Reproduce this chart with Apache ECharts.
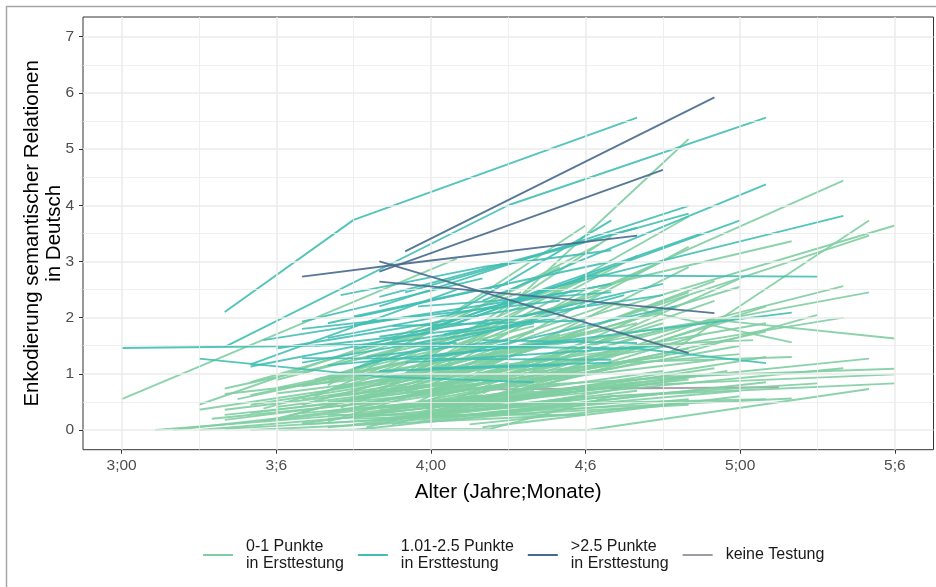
<!DOCTYPE html>
<html>
<head>
<meta charset="utf-8">
<script src="https://cdn.jsdelivr.net/npm/echarts@6/dist/echarts.min.js"></script>
<style>
  html, body { margin: 0; padding: 0; background: #fff; }
  #chart { width: 936px; height: 587px; }
</style>
</head>
<body>
<div id="chart"></div>
<script>
// Alter in Monaten, Wert = Enkodierung semantischer Relationen
const xTicks = [36, 42, 48, 54, 60, 66]
const xTickLabels = ['3;00', '3;6', '4;00', '4;6', '5;00', '5;6']
const xMinor = [39, 45, 51, 57, 63]
const yTicks = [0, 1, 2, 3, 4, 5, 6, 7]
const yMinor = [0.5, 1.5, 2.5, 3.5, 4.5, 5.5, 6.5]

const groupNames = ['0-1 Punkte\nin Ersttestung', '1.01-2.5 Punkte\nin Ersttestung', '>2.5 Punkte\nin Ersttestung', 'keine Testung']
const groupColors = ['#7fcea2', '#41bfb3', '#47698c', '#a09aa4']

// 0-1 Punkte in Ersttestung
const gruppeNiedrig = [
  [[36.0, 0.55], [49.0, 3.05]],
  [[38.0, 0.0], [50.0, 0.62]],
  [[39.0, 0.45], [51.5, 2.45]],
  [[39.0, 0.36], [50.5, 1.15]],
  [[39.0, 0.0], [53.5, 0.55]],
  [[37.3, 0.0], [47.0, 0.35]],
  [[40.0, 0.74], [52.0, 1.95]],
  [[40.0, 0.64], [49.0, 1.1]],
  [[40.0, 0.36], [52.5, 1.05]],
  [[40.0, 0.27], [47.0, 0.6]],
  [[40.0, 0.18], [53.0, 0.92]],
  [[40.0, 0.02], [50.0, 0.28]],
  [[41.0, 0.62], [51.0, 1.6]],
  [[41.0, 0.45], [53.0, 1.3]],
  [[41.0, 0.3], [49.5, 0.8]],
  [[41.0, 0.0], [54.0, 0.28]],
  [[42.0, 0.89], [53.0, 2.2]],
  [[42.0, 0.65], [55.0, 1.4]],
  [[42.0, 0.41], [51.0, 0.95]],
  [[42.0, 0.18], [52.0, 0.7]],
  [[42.1, 0.0], [54.1, 0.0], [65.0, 0.73]],
  [[43.1, 0.0], [50.3, 0.02], [55.0, 0.6]],
  [[43.0, 1.0], [53.5, 2.6]],
  [[43.0, 0.78], [52.0, 1.5]],
  [[43.0, 0.55], [55.0, 1.35]],
  [[43.0, 0.3], [51.0, 0.62]],
  [[43.0, 0.12], [54.0, 0.75]],
  [[44.0, 0.95], [54.0, 2.35]],
  [[44.0, 0.7], [56.0, 1.9]],
  [[44.0, 0.5], [52.0, 0.95]],
  [[44.0, 0.33], [55.0, 1.1]],
  [[44.0, 0.2], [53.0, 0.45]],
  [[44.0, 0.05], [55.5, 0.5]],
  [[45.0, 0.88], [55.0, 2.5]],
  [[45.0, 0.62], [54.0, 1.75]],
  [[45.0, 0.4], [56.0, 1.5]],
  [[45.0, 0.25], [53.0, 0.82]],
  [[45.0, 0.1], [56.0, 0.7]],
  [[45.0, 0.0], [52.0, 0.35]],
  [[46.0, 0.96], [55.0, 2.9]],
  [[46.0, 0.75], [57.0, 2.1]],
  [[46.0, 0.52], [55.0, 1.2]],
  [[46.0, 0.35], [57.0, 1.05]],
  [[46.0, 0.18], [54.0, 0.6]],
  [[46.0, 0.3], [58.0, 0.9]],
  [[47.0, 0.9], [57.0, 3.0]],
  [[47.0, 0.68], [55.0, 1.6]],
  [[47.0, 0.45], [58.0, 1.45]],
  [[47.0, 0.22], [56.0, 0.85]],
  [[47.0, 0.6], [59.0, 1.25]],
  [[48.0, 0.9], [58.0, 5.18]],
  [[48.0, 0.82], [58.0, 2.45]],
  [[48.0, 0.55], [57.0, 1.8]],
  [[48.0, 0.35], [59.0, 1.1]],
  [[48.0, 0.15], [58.0, 0.55]],
  [[48.0, 0.7], [60.0, 1.0]],
  [[49.0, 0.95], [59.0, 2.65]],
  [[49.0, 0.6], [60.0, 1.5]],
  [[49.0, 0.4], [58.0, 0.95]],
  [[49.0, 0.25], [61.0, 0.85]],
  [[50.0, 0.85], [59.0, 2.3]],
  [[50.0, 0.5], [61.0, 1.3]],
  [[50.0, 0.3], [60.0, 0.7]],
  [[46.0, 0.8], [53.0, 2.2], [64.0, 4.44]],
  [[44.0, 0.6], [57.0, 1.3], [65.0, 3.73]],
  [[47.0, 0.9], [54.0, 2.0], [66.0, 3.64]],
  [[45.0, 0.7], [54.0, 1.8], [65.0, 3.46]],
  [[48.0, 0.95], [54.0, 2.5], [62.0, 3.36]],
  [[46.0, 0.5], [54.0, 1.4], [64.0, 2.56]],
  [[47.0, 0.6], [55.0, 1.6], [65.0, 2.45]],
  [[45.0, 0.55], [56.0, 1.4], [64.0, 2.0]],
  [[44.0, 0.9], [59.0, 1.96], [66.0, 1.63]],
  [[46.0, 0.85], [55.0, 2.25], [62.0, 1.56]],
  [[47.0, 0.4], [57.0, 0.95], [66.0, 1.09]],
  [[45.0, 0.3], [56.0, 0.8], [66.0, 0.99]],
  [[46.0, 0.2], [55.0, 0.6], [66.0, 0.83]],
  [[48.0, 0.45], [57.0, 0.9], [65.0, 1.27]],
  [[47.0, 0.35], [56.0, 0.75], [64.0, 1.1]],
  [[48.0, 0.25], [55.0, 0.6], [63.0, 0.83]],
  [[43.0, 0.1], [52.0, 0.35], [62.0, 0.56]],
  [[49.0, 0.7], [56.0, 1.5], [61.0, 1.9]],
  [[48.0, 0.6], [58.0, 1.4], [63.0, 2.05]],
  [[45.0, 0.45], [55.0, 1.2], [62.0, 1.3]],
  [[46.0, 0.65], [55.0, 1.3], [61.0, 2.2]],
  [[47.0, 0.75], [60.0, 2.55]],
  [[48.0, 0.5], [61.0, 1.75]],
  [[45.0, 0.92], [54.0, 3.64]],
  [[47.0, 0.95], [58.0, 3.8]],
  [[48.0, 0.8], [58.0, 3.26]],
  [[46.0, 0.7], [56.0, 3.1]],
  [[44.0, 0.85], [53.0, 2.9]],
  [[43.5, 0.6], [54.0, 2.7]],
  [[47.5, 0.5], [58.0, 2.9]],
  [[49.0, 0.55], [58.0, 2.4]],
  [[50.0, 0.65], [60.0, 2.7]],
  [[48.5, 0.3], [59.0, 2.0]],
  [[44.5, 0.4], [54.0, 1.9]],
  [[43.0, 0.45], [53.0, 1.7]],
  [[42.5, 0.25], [52.5, 1.5]],
  [[41.5, 0.15], [51.0, 1.2]],
  [[44.0, 0.15], [55.0, 1.7]],
  [[45.5, 0.05], [54.0, 1.0]],
  [[46.5, 0.1], [56.0, 1.25]],
  [[47.5, 0.15], [57.0, 0.65]],
  [[49.5, 0.1], [58.0, 0.5]],
  [[50.0, 0.05], [60.0, 0.6]],
  [[43.5, 0.9], [52.0, 1.85]],
  [[44.5, 0.75], [51.0, 1.3]],
  [[46.5, 0.95], [53.0, 1.65]],
  [[48.5, 0.75], [55.0, 1.15]],
  [[50.0, 0.95], [57.0, 1.9]],
  [[42.0, 0.75], [50.0, 1.5]],
  [[41.0, 0.85], [49.0, 1.9]],
  [[40.5, 0.55], [48.0, 1.3]],
  [[39.5, 0.2], [46.0, 0.5]],
  [[41.5, 0.38], [52.0, 1.75]],
  [[45.0, 0.2], [52.0, 0.3], [58.0, 0.45]],
  [[44.0, 0.27], [54.0, 0.27]],
  [[46.0, 0.4], [61.0, 0.55]],
  [[44.0, 0.8], [54.5, 3.3]],
  [[46.5, 0.85], [55.0, 3.45]],
  [[49.0, 0.45], [56.0, 1.2], [60.0, 1.35]],
  [[50.5, 0.6], [58.5, 1.7]],
  [[51.0, 0.4], [59.5, 1.05]],
  [[47.5, 0.3], [55.5, 1.5], [60.5, 1.6]],
  [[51.0, 0.8], [60.0, 2.0]]
]

// 1.01-2.5 Punkte in Ersttestung
const gruppeMittel = [
  [[40.0, 2.1], [45.0, 3.74], [56.0, 5.56]],
  [[40.0, 1.48], [51.0, 4.0], [61.0, 5.56]],
  [[36.0, 1.46], [42.0, 1.49], [49.0, 1.55]],
  [[39.0, 1.27], [46.0, 0.95], [52.0, 0.85]],
  [[41.0, 1.17], [49.0, 2.5]],
  [[41.0, 1.13], [48.0, 1.75]],
  [[43.0, 1.93], [50.0, 2.7]],
  [[42.0, 1.45], [52.0, 2.2]],
  [[43.0, 1.28], [55.0, 1.25]],
  [[44.0, 1.64], [55.0, 2.6]],
  [[45.0, 2.02], [55.0, 3.0]],
  [[45.0, 1.87], [54.0, 2.5]],
  [[46.0, 2.37], [56.0, 3.6]],
  [[46.0, 2.2], [58.0, 3.99]],
  [[45.0, 1.45], [53.0, 2.0]],
  [[46.0, 1.66], [57.0, 2.4]],
  [[46.5, 1.6], [54.2, 2.75], [63.0, 2.73]],
  [[50.0, 2.3], [61.0, 4.37]],
  [[49.0, 1.9], [60.0, 3.73]],
  [[52.0, 2.45], [64.0, 3.81]],
  [[48.0, 1.3], [62.0, 2.09]],
  [[47.0, 1.5], [56.0, 1.45], [61.0, 1.19]],
  [[44.0, 1.15], [54.0, 1.6]],
  [[47.0, 2.45], [58.0, 3.85]],
  [[48.0, 1.8], [58.5, 3.5]],
  [[49.0, 2.1], [55.0, 3.73]],
  [[44.5, 2.4], [50.0, 2.9], [55.0, 3.2]],
  [[43.0, 1.8], [53.0, 2.3]],
  [[47.0, 1.2], [57.0, 1.5]],
  [[48.0, 1.1], [55.0, 1.2]],
  [[45.5, 1.3], [51.0, 1.6]],
  [[49.5, 1.4], [57.5, 2.2]],
  [[50.0, 1.6], [56.0, 1.55]],
  [[46.0, 1.05], [53.0, 1.15]],
  [[44.0, 1.9], [51.0, 2.6]],
  [[41.5, 1.6], [47.0, 2.0]],
  [[43.5, 1.5], [49.5, 1.8]],
  [[46.5, 1.85], [54.0, 1.95]],
  [[48.5, 1.7], [57.0, 2.6]],
  [[47.5, 2.2], [55.0, 2.45]],
  [[45.0, 1.1], [55.5, 2.4]],
  [[43.0, 1.2], [52.0, 1.9]]
]

// >2.5 Punkte in Ersttestung
const gruppeHoch = [
  [[43.0, 2.73], [46.8, 2.95], [56.0, 3.46]],
  [[46.0, 2.82], [57.0, 4.63]],
  [[47.0, 3.18], [59.0, 5.92]],
  [[46.0, 3.0], [58.0, 1.37]],
  [[46.0, 2.64], [59.0, 2.08]]
]

// keine Testung
const keineTestung = [
  [[50.0, 0.72], [57.0, 0.75]],
  [[55.0, 0.74], [61.5, 0.76]]
]

function makeSeries(name, color, lines, z) {
  return lines.map(pts => ({
    name: name,
    type: 'line',
    data: pts,
    symbol: 'none',
    silent: true,
    z: z,
    color: color,
    lineStyle: { color: color, width: 1.9, opacity: 0.9 },
    itemStyle: { color: color },
    emphasis: { disabled: true },
    animation: false
  }))
}

const gridLineStyle = (w) => ({ color: '#ebebeb', width: w, type: 'solid' })

const gridSeries = {
  type: 'line',
  data: [],
  silent: true,
  z: 1,
  animation: false,
  markLine: {
    silent: true,
    symbol: 'none',
    animation: false,
    label: { show: false },
    emphasis: { disabled: true },
    lineStyle: gridLineStyle(1),
    data: [
      ...xMinor.map(v => ({ xAxis: v, lineStyle: gridLineStyle(0.8) })),
      ...yMinor.map(v => ({ yAxis: v, lineStyle: gridLineStyle(0.8) })),
      ...xTicks.map(v => ({ xAxis: v, lineStyle: gridLineStyle(1.5) })),
      ...yTicks.map(v => ({ yAxis: v, lineStyle: gridLineStyle(1.5) }))
    ]
  }
}

const fontFamily = '"Liberation Sans", Arial, sans-serif'

const option = {
  backgroundColor: '#ffffff',
  animation: false,
  textStyle: { fontFamily: fontFamily },
  grid: {
    left: 83,
    top: 17,
    width: 850.5,
    height: 432.7,
    show: true,
    borderColor: '#333333',
    borderWidth: 1,
    backgroundColor: '#ffffff'
  },
  xAxis: {
    type: 'value',
    min: 34.5,
    max: 67.5,
    name: 'Alter (Jahre;Monate)',
    nameLocation: 'middle',
    nameGap: 32,
    nameMoveOverlap: false,
    nameTextStyle: { fontSize: 20.5, color: '#000000', fontFamily: fontFamily },
    axisLine: { show: false, onZero: false },
    axisTick: { show: true, length: 4, customValues: xTicks, lineStyle: { color: '#333333' } },
    axisLabel: {
      customValues: xTicks,
      formatter: v => xTickLabels[xTicks.indexOf(v)],
      color: '#4d4d4d',
      fontSize: 15.5,
      margin: 8,
      fontFamily: fontFamily
    },
    splitLine: { show: false }
  },
  yAxis: {
    type: 'value',
    min: -0.35,
    max: 7.35,
    name: 'Enkodierung semantischer Relationen\nin Deutsch',
    nameLocation: 'middle',
    nameRotate: 90,
    nameGap: 18,
    nameMoveOverlap: false,
    nameTextStyle: { fontSize: 20.5, lineHeight: 22, color: '#000000', fontFamily: fontFamily },
    axisLine: { show: false, onZero: false },
    axisTick: { show: true, length: 4, customValues: yTicks, lineStyle: { color: '#333333' } },
    axisLabel: {
      customValues: yTicks,
      color: '#4d4d4d',
      fontSize: 15.5,
      margin: 9,
      fontFamily: fontFamily
    },
    splitLine: { show: false }
  },
  legend: {
    data: groupNames.map((n, i) => ({ name: n, itemStyle: { color: groupColors[i] } })),
    left: 198,
    top: 533,
    orient: 'horizontal',
    itemWidth: 38,
    itemHeight: 2,
    itemGap: 14,
    icon: 'path://M0,0L30,0L30,2L0,2ZM38,0L38,2',
    itemStyle: { borderWidth: 0 },
    selectedMode: false,
    textStyle: { fontSize: 16, lineHeight: 17, color: '#1a1a1a', fontFamily: fontFamily }
  },
  graphic: [
    {
      type: 'rect',
      shape: { x: 6.5, y: 6.5, width: 1000, height: 1000 },
      style: { fill: 'none', stroke: '#a6a6a6', lineWidth: 1.5 },
      silent: true,
      z: 100
    }
  ],
  series: [
    gridSeries,
    ...makeSeries(groupNames[3], groupColors[3], keineTestung, 2),
    ...makeSeries(groupNames[0], groupColors[0], gruppeNiedrig, 3),
    ...makeSeries(groupNames[1], groupColors[1], gruppeMittel, 4),
    ...makeSeries(groupNames[2], groupColors[2], gruppeHoch, 5)
  ]
}

const chart = echarts.init(document.getElementById('chart'), null, { renderer: 'canvas' })
chart.setOption(option)
</script>
</body>
</html>
